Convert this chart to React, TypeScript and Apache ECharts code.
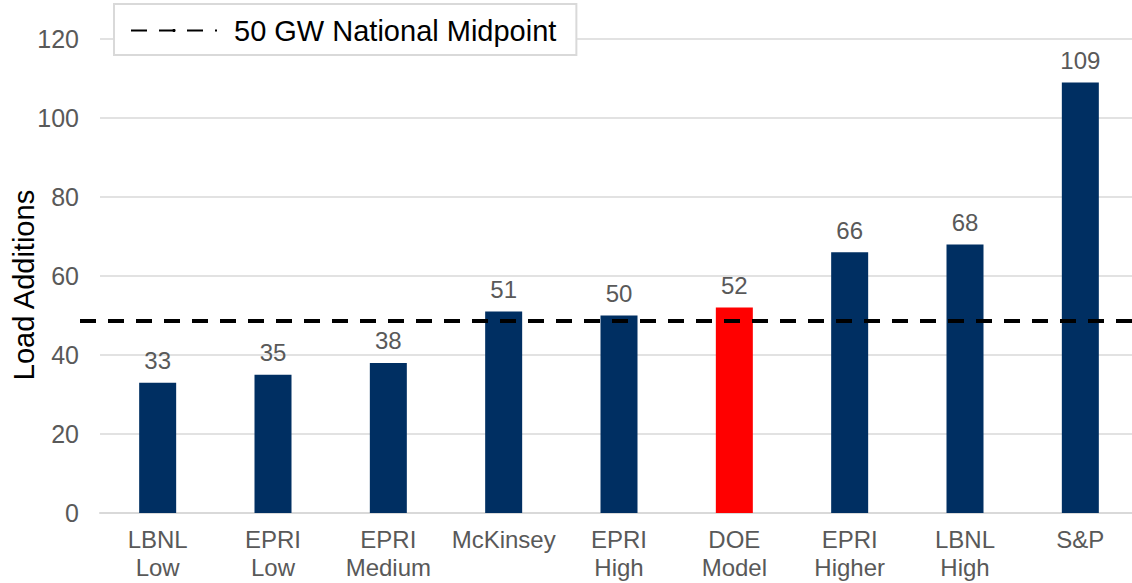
import React, { useEffect, useRef } from "react";
import * as echarts from "echarts";

const categories = [
  "LBNL\nLow",
  "EPRI\nLow",
  "EPRI\nMedium",
  "McKinsey",
  "EPRI\nHigh",
  "DOE\nModel",
  "EPRI\nHigher",
  "LBNL\nHigh",
  "S&P",
];
const values = [33, 35, 38, 51, 50, 52, 66, 68, 109];
const highlight = "DOE\nModel";
const midpointName = "50 GW National Midpoint";
const midpointValue = 48.6;
const yTicks = { min: 0, max: 120, interval: 20 };

const FONT = "'Liberation Sans', Arial, sans-serif";

export default function App() {
  const ref = useRef<HTMLDivElement>(null);
  useEffect(() => {
    if (!ref.current) return;
    const chart = echarts.init(ref.current, undefined, { renderer: "svg" });
    chart.setOption({
      animation: false,
      backgroundColor: "#ffffff",
      textStyle: { fontFamily: FONT },
      legend: {
        left: 114,
        top: 4,
        padding: [10, 20, 8, 16],
        borderColor: "#d9d9d9",
        borderWidth: 2,
        backgroundColor: "#ffffff",
        itemWidth: 86,
        itemHeight: 4,
        data: [midpointName],
        textStyle: { fontSize: 29, color: "#000", fontFamily: FONT, padding: [2, 0, 0, 12], lineHeight: 31 },
      },
      grid: [
        { left: 100, right: -6, top: 39, bottom: 70, outerBoundsMode: "none", containLabel: false },
        { left: 80, right: 0, top: 39, bottom: 70, outerBoundsMode: "none", containLabel: false },
      ],
      xAxis: [
        {
          type: "category",
          gridIndex: 0,
          data: categories,
          axisLine: { lineStyle: { color: "#d9d9d9", width: 2 } },
          axisTick: { show: false },
          axisLabel: { fontSize: 24, color: "#595959", lineHeight: 28, margin: 12, fontFamily: FONT, interval: 0 },
        },
        { type: "value", gridIndex: 1, min: 0, max: 1, show: false },
      ],
      yAxis: [
        {
          type: "value",
          gridIndex: 0,
          min: yTicks.min,
          max: yTicks.max,
          interval: yTicks.interval,
          name: "Load Additions",
          nameLocation: "middle",
          nameGap: 62,
          nameMoveOverlap: false,
          nameTextStyle: { fontSize: 29, color: "#000", fontFamily: FONT, padding: [0, 18, 0, 0] },
          axisLine: { show: false },
          axisTick: { show: false },
          splitLine: { lineStyle: { color: "#d9d9d9", width: 1.5 } },
          axisLabel: { fontSize: 25, color: "#595959", margin: 21, fontFamily: FONT },
        },
        { type: "value", gridIndex: 1, min: yTicks.min, max: yTicks.max, show: false },
      ],
      series: [
        {
          type: "bar",
          xAxisIndex: 0,
          yAxisIndex: 0,
          barWidth: 37,
          data: values.map((v, i) => ({
            value: v,
            itemStyle: { color: categories[i] === highlight ? "#ff0000" : "#002f62" },
          })),
          label: { show: true, position: "top", distance: 10, fontSize: 24, color: "#595959", fontFamily: FONT },
        },
        {
          name: midpointName,
          type: "line",
          xAxisIndex: 1,
          yAxisIndex: 1,
          symbol: "none",
          z: 5,
          data: [
            [0, midpointValue],
            [1, midpointValue],
          ],
          lineStyle: { color: "#000000", width: 4, type: [16, 12] },
          itemStyle: { color: "#000000" },
        },
      ],
    });
    return () => chart.dispose();
  }, []);
  return (
    <div
      ref={ref}
      style={{ position: "fixed", left: 0, top: 0, width: 1132, height: 583, overflow: "hidden" }}
    />
  );
}
